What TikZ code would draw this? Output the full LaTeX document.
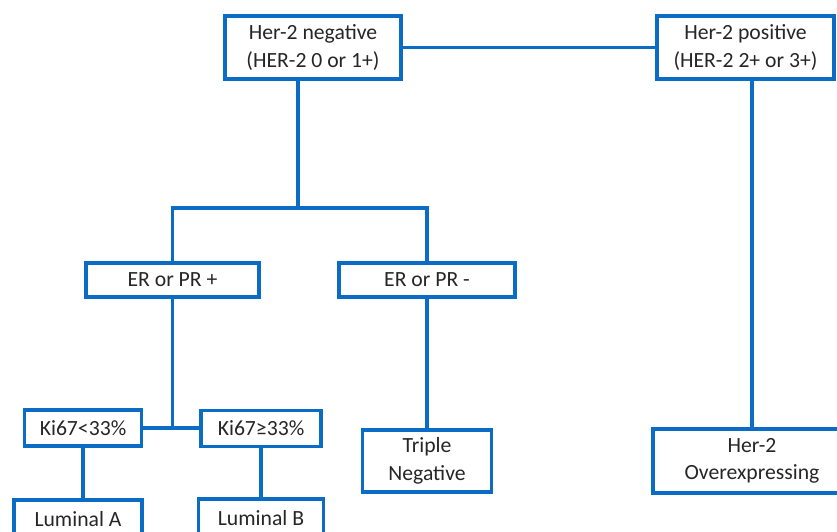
\documentclass[tikz,border=0pt]{standalone}
\usepackage{fontspec}
\setmainfont{Carlito}
\usepackage{tikz}
\usetikzlibrary{positioning,calc}
\definecolor{treeblue}{RGB}{10,108,196}

\begin{document}
\begin{tikzpicture}[
  x=0.03cm, y=-0.03cm,
  every node/.style={font=\fontsize{18.5}{23.5}\selectfont, text=black!85},
  box/.style={draw=treeblue, line width=2.8pt, fill=white, align=center,
              inner sep=0pt},
  link/.style={draw=treeblue, line width=2.8pt},
]
\useasboundingbox (0,0) rectangle (837,532);
\clip (0,0) rectangle (837,532);

% Her-2 status
\node[box, minimum width=5.28cm, minimum height=1.89cm] (neg) at (313,47.5)
  {Her-2 negative\\(HER-2 0 or 1+)};
\node[box, minimum width=5.31cm, minimum height=1.89cm] (pos) at (745.5,47.5)
  {Her-2 positive\\(HER-2 2+ or 3+)};

% Hormone receptors
\node[box, minimum width=5.19cm, minimum height=1.02cm] (erpos) at (172.5,280)
  {ER or PR +};
\node[box, minimum width=5.28cm, minimum height=1.02cm] (erneg) at (427,280)
  {ER or PR -};

% Ki67
\node[box, minimum width=3.51cm, minimum height=1.08cm] (kilow) at (83,428)
  {Ki67<33\%};
\node[box, minimum width=3.60cm, minimum height=1.08cm] (kihigh) at (261,428.5)
  {Ki67≥33\%};

% Subtypes
\node[box, minimum width=3.84cm, minimum height=1.14cm] (luma) at (78,519)
  {Luminal A};
\node[box, minimum width=3.75cm, minimum height=1.14cm] (lumb) at (261,518)
  {Luminal B};
\node[box, minimum width=3.87cm, minimum height=1.86cm] (tneg) at (427,461)
  {Triple\\Negative};
\node[box, minimum width=5.94cm, minimum height=1.92cm] (over) at (752,461)
  {Her-2\\Overexpressing};

\coordinate (split) at (298,208);

% Connectors
\draw[link] (neg.east) -- (pos.west);
\draw[link] (pos.south -| over.north) -- (over.north);
\draw[link] (neg.south -| split) -- (split);
\draw[link] (erpos.north) -- (erpos.north |- split) -- (erneg.north |- split)
  -- (erneg.north);
\draw[link] (erneg.south) -- (tneg.north);
\draw[link] (erpos.south) -- (erpos.south |- kilow.east);
\draw[link] (kilow.east) -- (kilow.east -| kihigh.west);
\draw[link] (kilow.south) -- (kilow.south |- luma.north);
\draw[link] (kihigh.south) -- (lumb.north);
\end{tikzpicture}
\end{document}
